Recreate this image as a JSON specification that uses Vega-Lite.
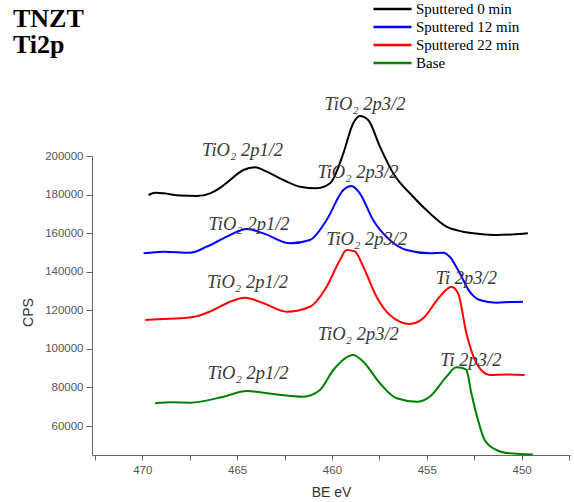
{
  "$schema": "https://vega.github.io/schema/vega-lite/v6.json",
  "width": 478,
  "height": 299,
  "autosize": {"type": "none"},
  "padding": {"left": 92, "top": 156, "right": 4, "bottom": 47},
  "background": "white",
  "title": {
    "text": ["TNZT", "Ti2p"],
    "anchor": "start",
    "frame": "group",
    "orient": "top",
    "font": "Liberation Serif",
    "fontSize": 26,
    "fontWeight": "bold",
    "color": "#000000",
    "lineHeight": 26,
    "dx": -79,
    "dy": 62
  },
  "config": {
    "view": {"stroke": null},
    "axis": {
      "labelFont": "Liberation Sans",
      "titleFont": "Liberation Sans",
      "labelColor": "#555555",
      "titleColor": "#333333",
      "domainColor": "#666666",
      "tickColor": "#666666",
      "grid": false,
      "labelFontSize": 11.5,
      "titleFontSize": 14,
      "titleFontWeight": "normal"
    }
  },
  "datasets": {
    "spectra": [
      {"be": 469.67, "cps": 179800, "series": "Sputtered 0 min"},
      {"be": 469.3, "cps": 180900, "series": "Sputtered 0 min"},
      {"be": 468.88, "cps": 180650, "series": "Sputtered 0 min"},
      {"be": 468.0, "cps": 179500, "series": "Sputtered 0 min"},
      {"be": 467.12, "cps": 179260, "series": "Sputtered 0 min"},
      {"be": 466.42, "cps": 180650, "series": "Sputtered 0 min"},
      {"be": 465.9, "cps": 183500, "series": "Sputtered 0 min"},
      {"be": 465.37, "cps": 187560, "series": "Sputtered 0 min"},
      {"be": 464.67, "cps": 192740, "series": "Sputtered 0 min"},
      {"be": 464.05, "cps": 194130, "series": "Sputtered 0 min"},
      {"be": 463.44, "cps": 191860, "series": "Sputtered 0 min"},
      {"be": 462.56, "cps": 187560, "series": "Sputtered 0 min"},
      {"be": 461.68, "cps": 184090, "series": "Sputtered 0 min"},
      {"be": 460.81, "cps": 183260, "series": "Sputtered 0 min"},
      {"be": 460.1, "cps": 185850, "series": "Sputtered 0 min"},
      {"be": 459.75, "cps": 192000, "series": "Sputtered 0 min"},
      {"be": 459.4, "cps": 201400, "series": "Sputtered 0 min"},
      {"be": 458.88, "cps": 216950, "series": "Sputtered 0 min"},
      {"be": 458.53, "cps": 220740, "series": "Sputtered 0 min"},
      {"be": 458.09, "cps": 218660, "series": "Sputtered 0 min"},
      {"be": 457.47, "cps": 204820, "series": "Sputtered 0 min"},
      {"be": 456.77, "cps": 191030, "series": "Sputtered 0 min"},
      {"be": 455.72, "cps": 178900, "series": "Sputtered 0 min"},
      {"be": 454.84, "cps": 170300, "series": "Sputtered 0 min"},
      {"be": 453.96, "cps": 163350, "series": "Sputtered 0 min"},
      {"be": 453.09, "cps": 160760, "series": "Sputtered 0 min"},
      {"be": 452.2, "cps": 159600, "series": "Sputtered 0 min"},
      {"be": 451.33, "cps": 159050, "series": "Sputtered 0 min"},
      {"be": 450.5, "cps": 159300, "series": "Sputtered 0 min"},
      {"be": 449.67, "cps": 159910, "series": "Sputtered 0 min"},

      {"be": 469.93, "cps": 149560, "series": "Sputtered 12 min"},
      {"be": 468.88, "cps": 150390, "series": "Sputtered 12 min"},
      {"be": 467.47, "cps": 149870, "series": "Sputtered 12 min"},
      {"be": 466.6, "cps": 152980, "series": "Sputtered 12 min"},
      {"be": 465.54, "cps": 158170, "series": "Sputtered 12 min"},
      {"be": 464.49, "cps": 162160, "series": "Sputtered 12 min"},
      {"be": 463.61, "cps": 159910, "series": "Sputtered 12 min"},
      {"be": 462.21, "cps": 154740, "series": "Sputtered 12 min"},
      {"be": 461.16, "cps": 156460, "series": "Sputtered 12 min"},
      {"be": 460.28, "cps": 166820, "series": "Sputtered 12 min"},
      {"be": 459.4, "cps": 182370, "series": "Sputtered 12 min"},
      {"be": 458.96, "cps": 184450, "series": "Sputtered 12 min"},
      {"be": 458.53, "cps": 180650, "series": "Sputtered 12 min"},
      {"be": 457.83, "cps": 166820, "series": "Sputtered 12 min"},
      {"be": 456.95, "cps": 156460, "series": "Sputtered 12 min"},
      {"be": 456.07, "cps": 151270, "series": "Sputtered 12 min"},
      {"be": 454.84, "cps": 149560, "series": "Sputtered 12 min"},
      {"be": 454.14, "cps": 149870, "series": "Sputtered 12 min"},
      {"be": 453.79, "cps": 147800, "series": "Sputtered 12 min"},
      {"be": 453.26, "cps": 139190, "series": "Sputtered 12 min"},
      {"be": 452.74, "cps": 129670, "series": "Sputtered 12 min"},
      {"be": 452.21, "cps": 125350, "series": "Sputtered 12 min"},
      {"be": 451.33, "cps": 123950, "series": "Sputtered 12 min"},
      {"be": 450.6, "cps": 124300, "series": "Sputtered 12 min"},
      {"be": 449.93, "cps": 124470, "series": "Sputtered 12 min"},

      {"be": 469.84, "cps": 115000, "series": "Sputtered 22 min"},
      {"be": 468.9, "cps": 115500, "series": "Sputtered 22 min"},
      {"be": 468.0, "cps": 115860, "series": "Sputtered 22 min"},
      {"be": 467.1, "cps": 117000, "series": "Sputtered 22 min"},
      {"be": 466.25, "cps": 120170, "series": "Sputtered 22 min"},
      {"be": 465.37, "cps": 124470, "series": "Sputtered 22 min"},
      {"be": 464.58, "cps": 126550, "series": "Sputtered 22 min"},
      {"be": 463.61, "cps": 123640, "series": "Sputtered 22 min"},
      {"be": 462.38, "cps": 119280, "series": "Sputtered 22 min"},
      {"be": 461.16, "cps": 121870, "series": "Sputtered 22 min"},
      {"be": 460.28, "cps": 132240, "series": "Sputtered 22 min"},
      {"be": 459.58, "cps": 146090, "series": "Sputtered 22 min"},
      {"be": 459.23, "cps": 151270, "series": "Sputtered 22 min"},
      {"be": 458.79, "cps": 150500, "series": "Sputtered 22 min"},
      {"be": 458.35, "cps": 142610, "series": "Sputtered 22 min"},
      {"be": 457.65, "cps": 127060, "series": "Sputtered 22 min"},
      {"be": 456.95, "cps": 117570, "series": "Sputtered 22 min"},
      {"be": 455.89, "cps": 112910, "series": "Sputtered 22 min"},
      {"be": 455.19, "cps": 115860, "series": "Sputtered 22 min"},
      {"be": 454.32, "cps": 127060, "series": "Sputtered 22 min"},
      {"be": 453.7, "cps": 132240, "series": "Sputtered 22 min"},
      {"be": 453.35, "cps": 128820, "series": "Sputtered 22 min"},
      {"be": 452.91, "cps": 108090, "series": "Sputtered 22 min"},
      {"be": 452.38, "cps": 92530, "series": "Sputtered 22 min"},
      {"be": 451.68, "cps": 86470, "series": "Sputtered 22 min"},
      {"be": 450.8, "cps": 86700, "series": "Sputtered 22 min"},
      {"be": 449.84, "cps": 86470, "series": "Sputtered 22 min"},

      {"be": 469.32, "cps": 71800, "series": "Base"},
      {"be": 468.4, "cps": 72300, "series": "Base"},
      {"be": 467.47, "cps": 72130, "series": "Base"},
      {"be": 465.72, "cps": 75230, "series": "Base"},
      {"be": 464.49, "cps": 78180, "series": "Base"},
      {"be": 463.09, "cps": 76620, "series": "Base"},
      {"be": 461.51, "cps": 75230, "series": "Base"},
      {"be": 460.63, "cps": 78690, "series": "Base"},
      {"be": 459.93, "cps": 89060, "series": "Base"},
      {"be": 458.88, "cps": 96840, "series": "Base"},
      {"be": 458.35, "cps": 93370, "series": "Base"},
      {"be": 457.47, "cps": 82170, "series": "Base"},
      {"be": 456.59, "cps": 74390, "series": "Base"},
      {"be": 455.54, "cps": 72630, "series": "Base"},
      {"be": 454.84, "cps": 75230, "series": "Base"},
      {"be": 453.96, "cps": 85600, "series": "Base"},
      {"be": 453.44, "cps": 90470, "series": "Base"},
      {"be": 453.09, "cps": 89940, "series": "Base"},
      {"be": 452.91, "cps": 89060, "series": "Base"},
      {"be": 452.65, "cps": 77020, "series": "Base"},
      {"be": 452.3, "cps": 63140, "series": "Base"},
      {"be": 451.95, "cps": 52770, "series": "Base"},
      {"be": 451.33, "cps": 47590, "series": "Base"},
      {"be": 450.63, "cps": 45880, "series": "Base"},
      {"be": 449.41, "cps": 45300, "series": "Base"}
    ],
    "notes": [
      {"be": 458.26, "cps": 226960, "label": "TiO₂ 2p3/2"},
      {"be": 464.71, "cps": 203270, "label": "TiO₂ 2p1/2"},
      {"be": 458.63, "cps": 191450, "label": "TiO₂ 2p3/2"},
      {"be": 464.37, "cps": 164750, "label": "TiO₂ 2p1/2"},
      {"be": 458.17, "cps": 156970, "label": "TiO₂ 2p3/2"},
      {"be": 464.45, "cps": 134680, "label": "TiO₂ 2p1/2"},
      {"be": 452.91, "cps": 137010, "label": "Ti  2p3/2"},
      {"be": 458.61, "cps": 107720, "label": "TiO₂ 2p3/2"},
      {"be": 464.42, "cps": 87500, "label": "TiO₂ 2p1/2"},
      {"be": 452.68, "cps": 94250, "label": "Ti  2p3/2"}
    ]
  },
  "layer": [
    {
      "data": {"name": "spectra"},
      "mark": {"type": "line", "strokeWidth": 2, "clip": false, "interpolate": "monotone"},
      "encoding": {
        "x": {
          "field": "be",
          "type": "quantitative",
          "scale": {"domain": [447.45, 472.65], "reverse": true, "nice": false, "zero": false},
          "axis": {
            "title": "BE eV",
            "values": [472.5, 470, 467.5, 465, 462.5, 460, 457.5, 455, 452.5, 450, 447.5],
            "labelExpr": "datum.value % 5 === 0 ? format(datum.value, 'd') : ''",
            "tickSize": 5,
            "labelPadding": 4,
            "titleY": 30,
            "titleBaseline": "top"
          }
        },
        "y": {
          "field": "cps",
          "type": "quantitative",
          "scale": {"domain": [45000, 200000], "nice": false, "zero": false},
          "axis": {
            "title": "CPS",
            "values": [60000, 80000, 100000, 120000, 140000, 160000, 180000, 200000],
            "format": "d",
            "tickSize": 6,
            "labelPadding": 3,
            "titleX": -64,
            "titleY": 156,
            "titleAngle": 270,
            "titleBaseline": "middle",
            "titleAlign": "center"
          }
        },
        "color": {
          "field": "series",
          "type": "nominal",
          "scale": {
            "domain": ["Sputtered 0 min", "Sputtered 12 min", "Sputtered 22 min", "Base"],
            "range": ["#000000", "#0000ff", "#ff0000", "#008000"]
          },
          "legend": {
            "title": null,
            "orient": "none",
            "legendX": 280,
            "legendY": -156,
            "symbolType": "stroke",
            "symbolSize": 1444,
            "symbolStrokeWidth": 2.5,
            "labelFont": "Liberation Serif",
            "labelFontSize": 15,
            "labelColor": "#000000",
            "labelOffset": 3,
            "clipHeight": 18,
            "rowPadding": 0,
            "padding": 0
          }
        }
      }
    },
    {
      "data": {"name": "notes"},
      "mark": {
        "type": "text",
        "font": "Liberation Serif",
        "fontStyle": "italic",
        "fontSize": 18.5,
        "color": "#3a3a3a",
        "align": "center",
        "baseline": "middle",
        "clip": false
      },
      "encoding": {
        "x": {"field": "be", "type": "quantitative"},
        "y": {"field": "cps", "type": "quantitative"},
        "text": {"field": "label"}
      }
    }
  ]
}
